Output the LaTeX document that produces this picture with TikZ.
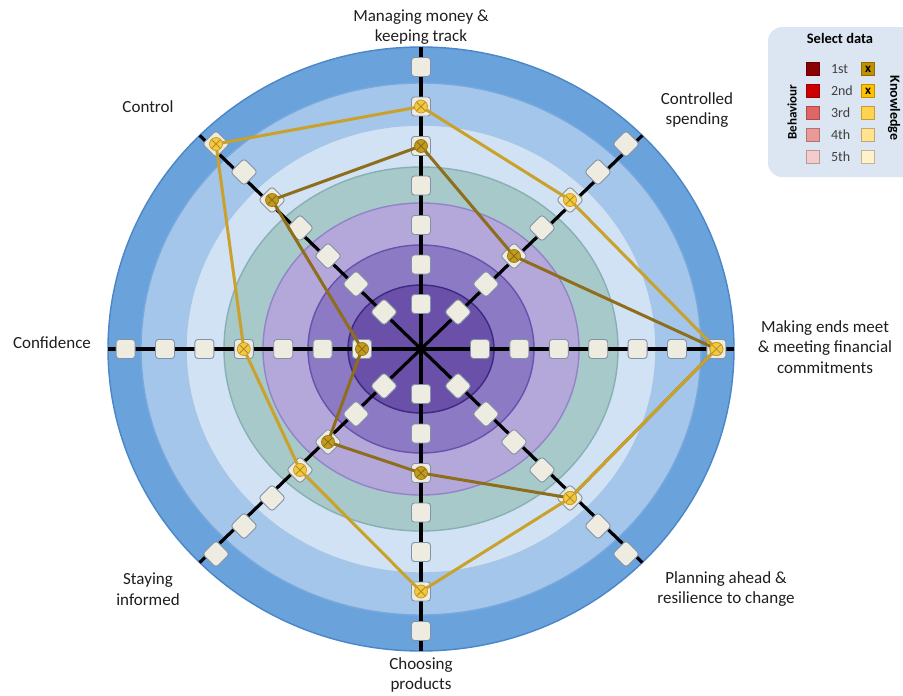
\documentclass[tikz,border=0pt]{standalone}
\usepackage{fontspec}
\setmainfont{Carlito}
\usepackage{tikz}
\usetikzlibrary{calc}
\usetikzlibrary{positioning}
\definecolor{ringG}{HTML}{6AA3DB}\definecolor{ringGe}{HTML}{4A86C8}
\definecolor{ringF}{HTML}{A4C6EA}\definecolor{ringFe}{HTML}{78A8DD}
\definecolor{ringE}{HTML}{D0E2F4}\definecolor{ringEe}{HTML}{A6C6E8}
\definecolor{ringD}{HTML}{A7C9CA}\definecolor{ringDe}{HTML}{88B0B3}
\definecolor{ringC}{HTML}{B4A7DA}\definecolor{ringCe}{HTML}{9383C9}
\definecolor{ringB}{HTML}{8C7AC4}\definecolor{ringBe}{HTML}{6852AC}
\definecolor{ringA}{HTML}{6A50A9}\definecolor{ringAe}{HTML}{3A2A82}
\definecolor{tickfill}{HTML}{EEECE1}
\definecolor{tickedge}{HTML}{8393A7}
\definecolor{goldline}{HTML}{C9A12B}
\definecolor{brownline}{HTML}{8E6D1B}
\definecolor{golddot}{HTML}{F6C83E}
\definecolor{browndot}{HTML}{C29A1E}
\definecolor{labeltext}{HTML}{1E1E1E}
\definecolor{keybg}{HTML}{DCE6F2}
\definecolor{keytext}{HTML}{404040}
\definecolor{behA}{HTML}{8B0000}\definecolor{behB}{HTML}{CC0000}
\definecolor{behC}{HTML}{E06666}\definecolor{behD}{HTML}{EA9999}
\definecolor{behE}{HTML}{F4CCCC}
\definecolor{knowA}{HTML}{BF9000}\definecolor{knowB}{HTML}{FFC000}
\definecolor{knowC}{HTML}{FFD34F}\definecolor{knowD}{HTML}{FFE38F}
\definecolor{knowE}{HTML}{FFF1C9}
\def\TickSize{19pt}
\def\DotSize{13pt}
\def\KeySize{13pt}

\begin{document}
\begin{tikzpicture}[x=1pt,y=-1pt,
		tick/.style={draw=tickedge,fill=tickfill,line width=0.9pt,rounded corners=3pt,minimum size=\TickSize,inner sep=0pt},
		spoke/.style={line width=3.2pt,black},
		series/.style={line width=3pt,line join=round,draw=#1},
		dot/.style={circle,fill=#1,draw=#1!80!black,line width=0.8pt,minimum size=\DotSize,inner sep=0pt,
			path picture={\draw[#1!70!black,line width=0.8pt] (path picture bounding box.north west) -- (path picture bounding box.south east) (path picture bounding box.north east) -- (path picture bounding box.south west);}},
		axislabel/.style={align=center,font=\fontsize{17}{20.5}\selectfont,text=labeltext},
		keysq/.style={minimum size=\KeySize,inner sep=0pt,line width=0.6pt,fill=#1,draw=#1!75!black,font=\bfseries\fontsize{13}{13}\selectfont},
		keytext/.style={font=\fontsize{14}{16}\selectfont,text=keytext,inner sep=0pt,anchor=west}]
	\useasboundingbox (0,0) rectangle (903,696);
	% rings
	\begin{scope}[shift={(421,349)}]
		\coordinate (o) at (0,0);
		\foreach \rx/\ry/\fc/\ec in {313/302/ringG/ringGe,280/266/ringF/ringFe,235/224/ringE/ringEe,197/182/ringD/ringDe,158/146/ringC/ringCe,113/104/ringB/ringBe,73/64/ringA/ringAe}
			\filldraw[fill=\fc,draw=\ec,line width=1.4pt] (o) ellipse [x radius=\rx,y radius=\ry];
		% 
		\foreach \a in {0,...,7}{
			\coordinate (e\a) at (\a*45:313 and 302);
			\draw[spoke] (o) -- (e\a);
		}
		% ticks: axis / first offset / step
		\foreach \a/\dz/\ds in {0/59/39.4,1/52.3/39.6,2/45/39.5,3/52.3/39.6,4/59/39.4,5/52.3/39.6,6/45/39.5,7/52.3/39.6}
			\foreach \k in {1,...,7}
				\node[tick,rotate=\a*45] (m\a-\k) at (\a*45:{\dz+(\k-1)*\ds}) {};
	\end{scope}
	% 
	\draw[series=brownline] (m0-7.center) -- (m1-5.center) -- (m2-3.center) -- (m3-3.center) -- (m4-1.center) -- (m5-5.center) -- (m6-5.center) -- (m7-3.center) -- cycle;
	\draw[series=goldline] (m0-7.center) -- (m1-5.center) -- (m2-6.center) -- (m3-4.center) -- (m4-4.center) -- (m5-7.center) -- (m6-6.center) -- (m7-5.center) -- cycle;
	\foreach \a/\k in {0/7,1/5,2/3,3/3,4/1,5/5,6/5,7/3}
		\node[dot=browndot] (b\a) at (m\a-\k) {};
	\foreach \a/\k in {0/7,1/5,2/6,3/4,4/4,5/7,6/6,7/5}
		\node[dot=golddot] (g\a) at (m\a-\k) {};
	% labels
	\node[axislabel] (lmoney) at (421,27) {Managing money \&\\keeping track};
	\node[axislabel] (lspend) at (697,110) {Controlled\\spending};
	\node[axislabel] (lends) at (825,347) {Making ends meet\\\& meeting financial\\commitments};
	\node[axislabel] (lplan) at (726,589) {Planning ahead \&\\resilience to change};
	\node[axislabel] (lchoose) at (421,675) {Choosing\\products};
	\node[axislabel] (linform) at (148,589) {Staying\\informed};
	\node[axislabel] (lconf) at (52,343) {Confidence};
	\node[axislabel] (lcontrol) at (148,107) {Control};
	% key
	\fill[keybg,rounded corners=14pt] (768,27) rectangle (920,177);
	\node[font=\bfseries\fontsize{14.5}{16}\selectfont] (keyhead) at (840,38) {Select data};
	\foreach \i/\t/\bc/\kc/\x in {1/1st/behA/knowA/x,2/2nd/behB/knowB/x,3/3rd/behC/knowC/,4/4th/behD/knowD/,5/5th/behE/knowE/}{
		\node[keysq=\bc] (kb\i) at (813,{69+22*(\i-1)}) {};
		\node[keytext,right=11pt of kb\i] (kt\i) {\t};
		\node[keysq=\kc] (kk\i) at (868,{69+22*(\i-1)}) {\x};
	}
	\node[rotate=90,font=\bfseries\fontsize{13}{15}\selectfont] (kbeh) at (792,112) {Behaviour};
	\node[rotate=-90,font=\bfseries\fontsize{14}{16}\selectfont] (kknow) at (894,108) {Knowledge};
\end{tikzpicture}
\end{document}
